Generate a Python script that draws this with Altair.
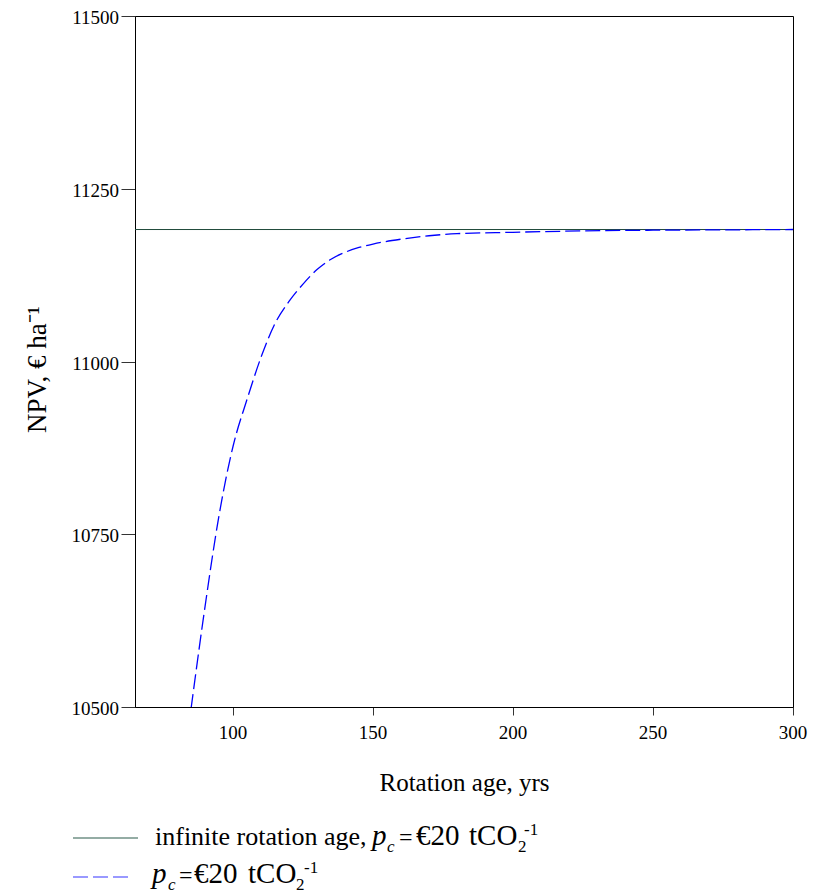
import altair as alt
import pandas as pd

# ---- data ----
rotation_age = [85, 90, 95, 100, 105, 110, 115, 120, 125, 130, 135, 140, 145, 150,
                160, 170, 180, 200, 225, 250, 275, 300]
npv_pc20 = [10497, 10645, 10777, 10877, 10945, 11006, 11055, 11087, 11112, 11133,
            11148, 11158, 11165, 11170, 11177, 11182, 11185, 11187, 11189, 11190,
            11190.5, 11191]
npv_infinite = [11191]

x_domain = [65, 300]
y_domain = [10500, 11500]
x_ticks = [100, 150, 200, 250, 300]
y_ticks = [10500, 10750, 11000, 11250, 11500]

FONT = "Liberation Serif"

curve_df = pd.DataFrame({"age": rotation_age, "npv": npv_pc20})
inf_df = pd.DataFrame({"npv": npv_infinite})
xt_df = pd.DataFrame({"age": x_ticks})
yt_df = pd.DataFrame({"npv": y_ticks})
one = pd.DataFrame({"k": [0]})

x_scale = alt.Scale(domain=x_domain, nice=False, zero=False)
y_scale = alt.Scale(domain=y_domain, nice=False, zero=False)

x_axis = alt.Axis(values=x_ticks, labels=False, title="Rotation age, yrs",
                  tickSize=8, titleFont=FONT, titleFontSize=25,
                  titleBaseline="alphabetic", titleY=83)
y_axis = alt.Axis(values=y_ticks, labels=False, title="NPV, € ha⁻¹",
                  tickSize=14, titleFont=FONT, titleFontSize=27,
                  titleAngle=270, titleBaseline="alphabetic", titleAlign="center",
                  titleX=-90, titleY=353)

x_enc = alt.X("age:Q", scale=x_scale, axis=x_axis)
y_enc = alt.Y("npv:Q", scale=y_scale, axis=y_axis)

inf_rule = alt.Chart(inf_df).mark_rule(color="#1f4a3a", strokeWidth=1).encode(y=y_enc)

curve = alt.Chart(curve_df).mark_line(
    color="#0000ff", strokeWidth=1.3, strokeDash=[15, 5], interpolate="monotone", clip=True
).encode(x=x_enc, y=y_enc)

# tick labels drawn as serif text through the same scales
x_labels = alt.Chart(xt_df).mark_text(
    font=FONT, fontSize=19, baseline="top", align="center", dy=17, color="black"
).encode(x=x_enc, y=alt.value(691), text=alt.Text("age:Q", format="d"))

y_labels = alt.Chart(yt_df).mark_text(
    font=FONT, fontSize=19, baseline="middle", align="right", dx=-16, dy=2, color="black"
).encode(y=y_enc, x=alt.value(0), text=alt.Text("npv:Q", format="d"))


def piece(s, x, y, size=26, italic=False):
    return alt.Chart(one).mark_text(
        text=s, font=FONT, fontSize=size, fontStyle="italic" if italic else "normal",
        align="left", baseline="alphabetic", color="black"
    ).encode(x=alt.value(x), y=alt.value(y))


def sample(x1, x2, y, color, dash=None):
    kw = dict(color=color, strokeWidth=1.2)
    if dash:
        kw["strokeDash"] = dash
    return alt.Chart(one).mark_rule(**kw).encode(x=alt.value(x1), x2=alt.value(x2), y=alt.value(y))


M = 29   # size of the formula part
S = 17   # sub/superscript size
legend = [
    sample(-62, 3, 822, "#2a5a4a"),
    piece("infinite rotation age,", 20, 829),
    piece("p", 237, 829, size=M, italic=True),
    piece("c", 252, 836, size=S, italic=True),
    piece("=", 264, 829, size=24),
    piece("€20", 281, 829, size=M),
    piece("tCO", 334, 829, size=M),
    piece("2", 383, 836, size=S),
    piece("-1", 389, 819, size=S),
    sample(-62, -3, 861, "#3535ff", dash=[15, 5]),
    piece("p", 17, 867, size=M, italic=True),
    piece("c", 33, 874, size=S, italic=True),
    piece("=", 44, 867, size=24),
    piece("€20", 59, 867, size=M),
    piece("tCO", 113, 867, size=M),
    piece("2", 161, 874, size=S),
    piece("-1", 169, 857, size=S),
]

chart = alt.layer(inf_rule, curve, x_labels, y_labels, *legend).properties(
    width=658, height=691,
    autosize=alt.AutoSizeParams(type="none"),
    padding={"left": 127, "top": 8, "right": 18, "bottom": 186},
).configure_view(
    stroke="black", strokeWidth=1
).configure_axis(
    grid=False, domainColor="black", tickColor="#333333",
    titleColor="black", titleFont=FONT, titleFontWeight="normal"
)

chart.save("out.html", embed_options={"renderer": "svg", "actions": False})
